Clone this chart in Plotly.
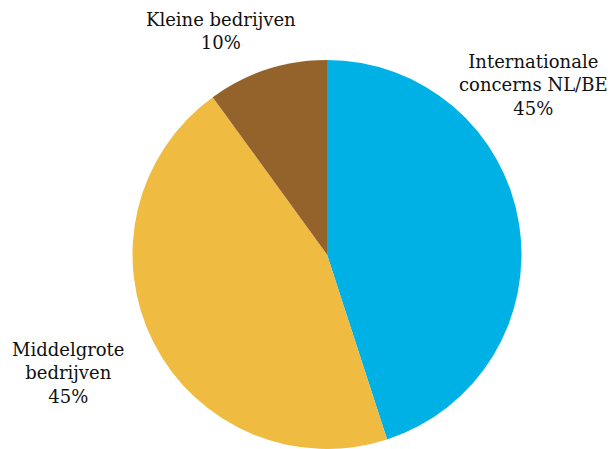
import plotly.graph_objects as go

W, H = 610, 449

labels = ["Internationale concerns NL/BE", "Middelgrote bedrijven", "Kleine bedrijven"]
values = [45, 45, 10]
colors = ["#00B1E5", "#EFBB40", "#94632C"]
label_text = ["Internationale<br>concerns NL/BE", "Middelgrote<br>bedrijven", "Kleine bedrijven"]

# label anchor centers in pixels
label_pos = [(533, 85), (68, 373), (221, 31)]

cx, cy, r = 327, 254.5, 194.5

fig = go.Figure(go.Pie(
    labels=labels,
    values=values,
    sort=False,
    direction="clockwise",
    rotation=0,
    marker=dict(colors=colors, line=dict(width=0)),
    textinfo="none",
    hoverinfo="label+percent",
    showlegend=False,
    domain=dict(x=[(cx - r) / W, (cx + r) / W], y=[(H - cy - r) / H, (H - cy + r) / H]),
))

total = sum(values)
for txt, v, (px, py) in zip(label_text, values, label_pos):
    fig.add_annotation(
        x=px / W, y=1 - py / H, xref="paper", yref="paper",
        text=f"{txt}<br>{round(100 * v / total)}%",
        showarrow=False, xanchor="center", yanchor="middle", align="center",
        font=dict(family="DejaVu Serif", size=18, color="#111111"),
    )

fig.update_layout(
    width=W, height=H,
    margin=dict(l=0, r=0, t=0, b=0),
    paper_bgcolor="white", plot_bgcolor="white",
)

fig.write_html("out.html")
